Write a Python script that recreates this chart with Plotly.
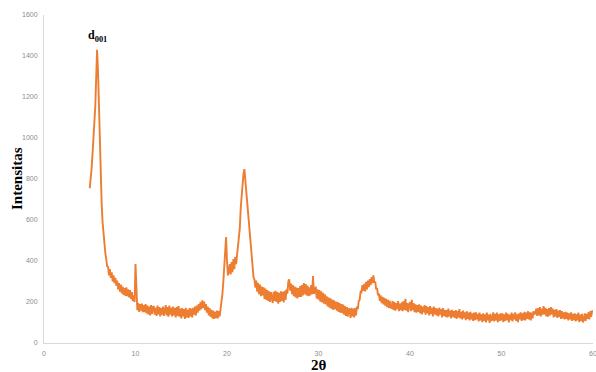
import numpy as np
import plotly.graph_objects as go

# 2-theta grid (degrees), step 0.1 from 5.0 to 60.0
two_theta_start = 5.0
two_theta_step = 0.1

# Intensity values, one list per degree (x.0 ... x.9)
i05 = [755, 790, 850, 920, 990, 1050, 1150, 1290, 1430, 1330]
i06 = [1150, 960, 800, 680, 590, 530, 480, 440, 410, 375]
i07 = [372, 330, 360, 318, 345, 300, 330, 292, 318, 280]
i08 = [305, 262, 292, 250, 285, 242, 275, 235, 268, 230]
i09 = [272, 228, 262, 222, 258, 215, 248, 205, 232, 200]
i10 = [385, 198, 160, 195, 152, 190, 158, 192, 150, 185]
i11 = [150, 190, 145, 182, 140, 178, 135, 185, 142, 175]
i12 = [180, 138, 172, 132, 182, 140, 175, 130, 170, 138]
i13 = [178, 132, 170, 185, 135, 175, 128, 182, 138, 172]
i14 = [130, 178, 135, 170, 125, 175, 132, 180, 128, 168]
i15 = [120, 170, 130, 165, 118, 172, 125, 162, 122, 170]
i16 = [130, 168, 125, 172, 138, 178, 135, 182, 148, 190]
i17 = [158, 200, 165, 208, 172, 202, 160, 190, 148, 178]
i18 = [135, 170, 128, 162, 120, 158, 118, 152, 122, 158]
i19 = [120, 155, 130, 165, 195, 240, 300, 390, 470, 517]
i20 = [400, 330, 350, 385, 335, 395, 345, 410, 360, 420]
i21 = [385, 440, 455, 505, 560, 660, 725, 800, 825, 848]
i22 = [795, 735, 690, 610, 575, 510, 490, 420, 375, 320]
i23 = [310, 270, 305, 250, 292, 238, 285, 228, 275, 232]
i24 = [272, 215, 265, 210, 258, 205, 252, 200, 248, 212]
i25 = [195, 250, 205, 255, 200, 248, 192, 245, 200, 252]
i26 = [205, 250, 198, 255, 210, 262, 240, 300, 310, 255]
i27 = [290, 238, 282, 228, 275, 222, 270, 218, 268, 225]
i28 = [278, 225, 282, 232, 292, 238, 288, 232, 280, 228]
i29 = [272, 232, 282, 238, 327, 240, 252, 275, 218, 262]
i30 = [212, 258, 202, 252, 198, 245, 192, 238, 188, 228]
i31 = [178, 222, 172, 218, 168, 212, 162, 208, 165, 202]
i32 = [158, 200, 152, 195, 148, 190, 145, 188, 138, 180]
i33 = [132, 175, 128, 170, 162, 122, 172, 130, 168, 125]
i34 = [170, 135, 178, 165, 205, 210, 250, 248, 282, 255]
i35 = [288, 252, 298, 262, 305, 272, 312, 282, 322, 292]
i36 = [330, 295, 300, 262, 268, 232, 242, 205, 232, 195]
i37 = [225, 188, 220, 182, 215, 175, 210, 170, 205, 175]
i38 = [168, 205, 162, 200, 158, 195, 165, 205, 155, 192]
i39 = [160, 198, 155, 205, 162, 215, 158, 195, 150, 188]
i40 = [200, 155, 210, 160, 195, 150, 188, 148, 185, 152]
i41 = [188, 145, 182, 140, 178, 150, 185, 138, 180, 145]
i42 = [175, 135, 180, 142, 172, 130, 178, 140, 170, 135]
i43 = [168, 130, 172, 138, 165, 125, 170, 132, 162, 128]
i44 = [160, 125, 168, 130, 158, 120, 162, 128, 155, 122]
i45 = [160, 118, 155, 125, 165, 120, 152, 115, 158, 122]
i46 = [150, 112, 155, 118, 148, 110, 152, 115, 145, 108]
i47 = [148, 112, 150, 115, 142, 105, 148, 110, 140, 102]
i48 = [145, 108, 140, 100, 148, 110, 138, 98, 142, 108]
i49 = [115, 150, 105, 142, 110, 148, 102, 140, 108, 145]
i50 = [110, 145, 102, 140, 108, 148, 112, 142, 100, 138]
i51 = [112, 148, 105, 142, 115, 150, 108, 140, 102, 145]
i52 = [115, 150, 108, 145, 112, 152, 110, 148, 118, 155]
i53 = [115, 150, 110, 148, 120, 155, 140, 145, 168, 132]
i54 = [170, 135, 175, 130, 168, 138, 180, 140, 172, 130]
i55 = [165, 128, 170, 135, 175, 140, 168, 125, 162, 130]
i56 = [165, 122, 158, 128, 160, 118, 155, 120, 150, 115]
i57 = [152, 118, 148, 110, 145, 115, 150, 108, 142, 112]
i58 = [145, 105, 140, 110, 148, 102, 138, 108, 142, 100]
i59 = [115, 145, 108, 142, 118, 150, 115, 155, 128, 158]
i60 = [150]

x_ticks = [0, 10, 20, 30, 40, 50, 60]
y_ticks = [0, 200, 400, 600, 800, 1000, 1200, 1400, 1600]

segments = [i05, i06, i07, i08, i09, i10, i11, i12, i13, i14, i15, i16, i17,
            i18, i19, i20, i21, i22, i23, i24, i25, i26, i27, i28, i29, i30,
            i31, i32, i33, i34, i35, i36, i37, i38, i39, i40, i41, i42, i43,
            i44, i45, i46, i47, i48, i49, i50, i51, i52, i53, i54, i55, i56,
            i57, i58, i59, i60]
intensity = [v for seg in segments for v in seg]
two_theta = np.round(two_theta_start + two_theta_step * np.arange(len(intensity)), 2)

fig = go.Figure()
fig.add_trace(go.Scatter(
    x=two_theta, y=intensity, mode="lines",
    line=dict(color="#ED7D31", width=1.9),
    showlegend=False, hoverinfo="skip"))

tick_font = dict(family="Liberation Sans", size=7, color="#8c8c8c")
fig.update_layout(
    width=596, height=372,
    margin=dict(l=44, r=3, t=15, b=29),
    paper_bgcolor="white", plot_bgcolor="white",
    xaxis=dict(range=[0, 60], tickvals=x_ticks, showgrid=False, zeroline=False,
               showline=True, linecolor="#d9d9d9", linewidth=1, ticks="",
               tickfont=tick_font, ticklabelstandoff=4, ticklabeloverflow="allow",
               automargin=False),
    yaxis=dict(range=[0, 1600], tickvals=y_ticks, showgrid=False, zeroline=False,
               showline=True, linecolor="#d9d9d9", linewidth=1, ticks="",
               tickfont=tick_font, ticklabelstandoff=4, automargin=False),
    annotations=[
        dict(text="<b>Intensitas</b>", xref="paper", yref="paper", x=0, y=0.5,
             xanchor="center", yanchor="middle", xshift=-27, textangle=-90,
             showarrow=False, font=dict(family="Liberation Serif", size=15, color="black")),
        dict(text="<b>2θ</b>", xref="x", yref="paper", x=30, y=0,
             xanchor="center", yanchor="middle", yshift=-22,
             showarrow=False, font=dict(family="Liberation Serif", size=15, color="black")),
        dict(text="<b>d<sub>001</sub></b>", xref="x", yref="y", x=5.8, y=1500,
             xanchor="center", yanchor="middle",
             showarrow=False, font=dict(family="Liberation Serif", size=12, color="black")),
    ],
)

fig.write_html("out.html")
